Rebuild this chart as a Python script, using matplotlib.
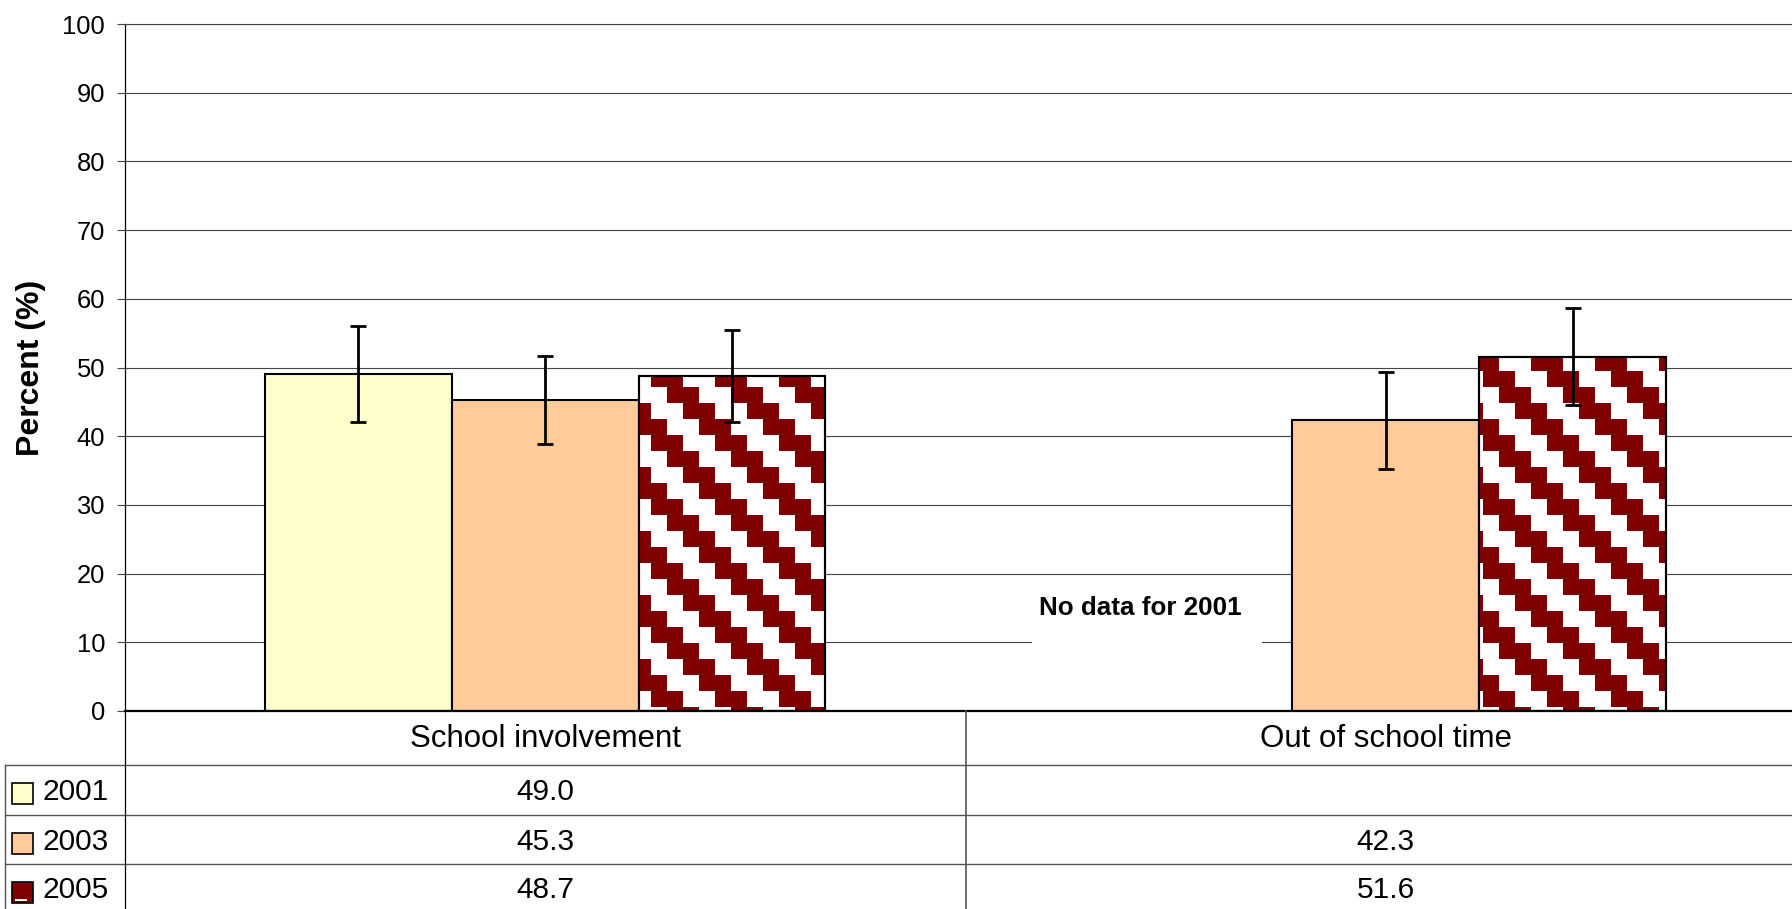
import numpy as np
import matplotlib
matplotlib.use("Agg")
import matplotlib.pyplot as plt
from matplotlib.transforms import Affine2D, blended_transform_factory
from matplotlib.collections import PolyCollection
from matplotlib.patches import Rectangle
from matplotlib.lines import Line2D

plt.rcParams['font.family'] = ['Liberation Sans', 'DejaVu Sans']

# ---------------- data ----------------
categories = ["School involvement", "Out of school time"]
years = ["2001", "2003", "2005"]
values_2001 = [49.0, np.nan]
values_2003 = [45.3, 42.3]
values_2005 = [48.7, 51.6]
err_2001 = [7.0, np.nan]
err_2003 = [6.4, 7.1]
err_2005 = [6.7, 7.1]
yticks = list(range(0, 101, 10))
ylabel = "Percent (%)"
note = "No data for 2001"

series_values = [values_2001, values_2003, values_2005]
series_errors = [err_2001, err_2003, err_2005]
face_colors = ["#FFFFCC", "#FFCC99", "#FFFFFF"]
hatch_color = "#800000"

# ---------------- figure ----------------
W, H = 1792, 909
fig = plt.figure(figsize=(W / 100, H / 100), dpi=100)
pxT = Affine2D().scale(1 / W, -1 / H).translate(0, 1) + fig.transFigure

ax_left, ax_right, ax_top, ax_bot = 125, 1806, 24, 711
ax = fig.add_axes([ax_left / W, (H - ax_bot) / H, (ax_right - ax_left) / W, (ax_bot - ax_top) / H])
ax.set_xlim(0, len(categories))
ax.set_ylim(0, 100)
ax.set_yticks(yticks)
ax.set_yticklabels([str(t) for t in yticks])
ax.set_xticks([])
ax.yaxis.grid(True, color="#444444", linewidth=0.8)
ax.set_axisbelow(True)
ax.tick_params(axis="y", length=5.8, width=0.8, pad=8.6, labelsize=18.4, direction="out", color="#444444")
ax.spines["right"].set_visible(False)
ax.spines["top"].set_color("#444444")
ax.spines["top"].set_linewidth(0.8)
ax.spines["left"].set_color("black")
ax.spines["left"].set_linewidth(0.9)
ax.spines["bottom"].set_color("black")
ax.spines["bottom"].set_linewidth(1.6)

# staircase stripe polygons (figure pixel coords) used as the 2005 fill pattern
def stair_stripes():
    polys = []
    nrows = H // 16 + 2
    for m in range(-20, 34):
        left, right = [], []
        for r in range(-1, nrows):
            xl = 11 + 16 * (r + 4 * m + 1)
            yt = 3 + 16 * r
            yb = yt + 16
            left += [(xl, yt), (xl, yb)]
            right += [(xl + 32, yt), (xl + 32, yb)]
        polys.append(left + right[::-1])
    return polys

stripes = stair_stripes()

width = 1 / 4.5
x0 = np.arange(len(categories)) + 0.5
for j, (vals, errs) in enumerate(zip(series_values, series_errors)):
    xs = x0 + (j - 1) * width
    vals = np.array(vals, dtype=float)
    errs = np.array(errs, dtype=float)
    ok = ~np.isnan(vals)
    bars = ax.bar(xs[ok], vals[ok], width, color=face_colors[j], edgecolor="black",
                  linewidth=1.5, zorder=2)
    if j == 2:
        for b in bars:
            pc = PolyCollection(stripes, facecolors=hatch_color, edgecolors="none",
                                transform=pxT, zorder=2.1)
            ax.add_collection(pc, autolim=False)
            pc.set_clip_path(b)
        ax.bar(xs[ok], vals[ok], width, fill=False, edgecolor="black", linewidth=1.5, zorder=2.2)
    ax.errorbar(xs[ok], vals[ok], yerr=errs[ok], fmt="none", ecolor="black",
                elinewidth=2.0, capsize=5.8, capthick=2.0, zorder=5)

# "No data" note with white box over gridline
ax.add_patch(Rectangle((1.079, 8.8), 0.274, 10.4, facecolor="white", edgecolor="none", zorder=1.5))
ax.text(1.208, 15.0, note, ha="center", va="center", fontsize=18.7, fontweight="bold", zorder=4)

# y label
fig.text(31, 367.5, ylabel, transform=pxT, rotation=90, ha="center", va="center",
         fontsize=23, fontweight="bold")

# ---------------- data table ----------------
bT = blended_transform_factory(ax.transData, pxT)
row_lines = [765, 815, 864]
row_centers = [791.5, 841.5, 890.5]
grid_col = "#555555"
for y in row_lines:
    fig.add_artist(Line2D([5, W], [y, y], transform=pxT, color=grid_col, linewidth=1.0))
fig.add_artist(Line2D([5, 5], [765, H], transform=pxT, color=grid_col, linewidth=1.0))
fig.add_artist(Line2D([ax_left, ax_left], [ax_bot, H], transform=pxT, color="black", linewidth=0.9))
for k in range(1, len(categories)):
    fig.add_artist(Line2D([k, k], [ax_bot, H], transform=bT, color=grid_col, linewidth=1.2))

for i, cat in enumerate(categories):
    fig.text(i + 0.5, 739, cat, transform=bT, ha="center", va="center", fontsize=22.5)

key_colors = ["#FFFFCC", "#FFCC99", hatch_color]
key_centers = [793.5, 843.5, 892]
for j, yr in enumerate(years):
    yc = row_centers[j]
    kc = key_centers[j]
    fig.add_artist(Rectangle((12, kc - 10.5), 21, 21, transform=pxT, facecolor=key_colors[j],
                             edgecolor="black", linewidth=1.2))
    if j == 2:
        fig.add_artist(Rectangle((15, kc + 7), 12, 2, transform=pxT, facecolor="white",
                                 edgecolor="none"))
    fig.text(42, yc, yr, transform=pxT, ha="left", va="center", fontsize=21.5)
    for i, v in enumerate(series_values[j]):
        if not np.isnan(v):
            fig.text(i + 0.5, yc, f"{v:.1f}", transform=bT, ha="center", va="center", fontsize=21.5)

fig.savefig("out.png", dpi=100)
